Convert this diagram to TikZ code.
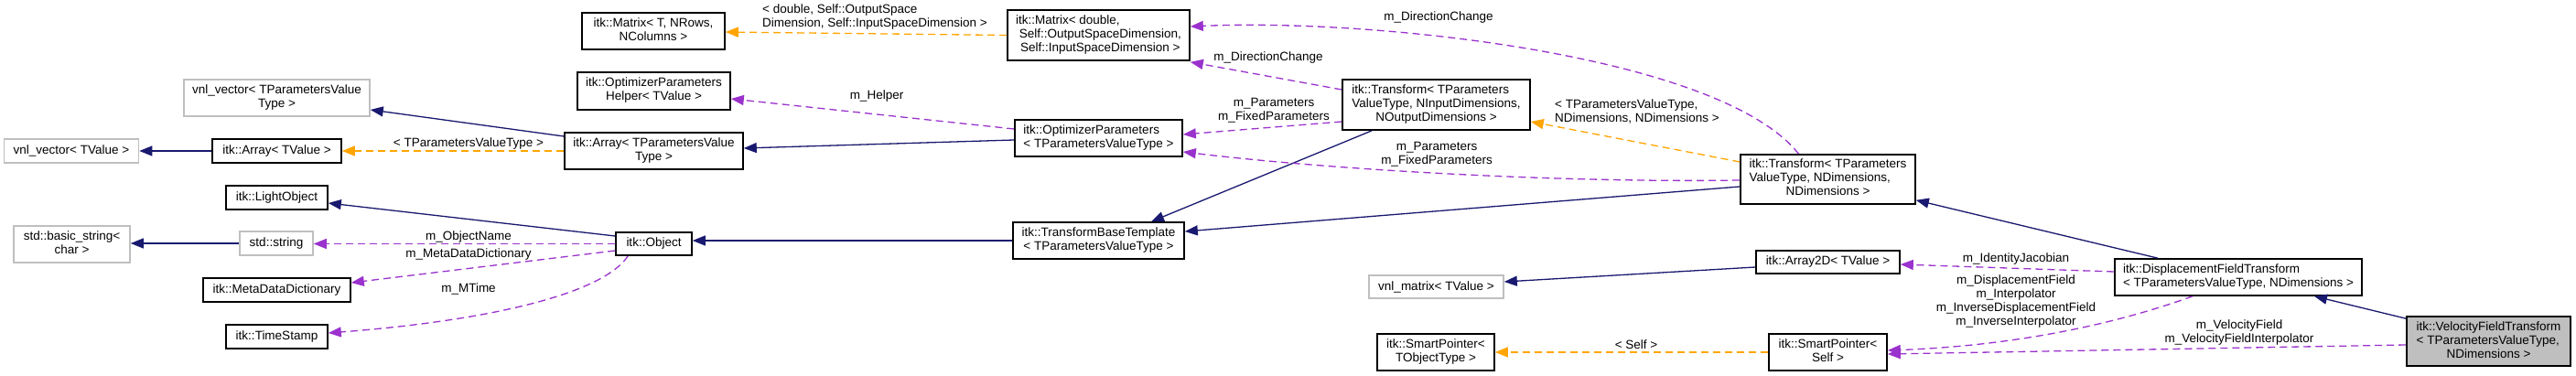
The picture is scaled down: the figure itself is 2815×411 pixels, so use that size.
\documentclass[tikz,border=0pt]{standalone}
\usepackage{fontspec}
\setmainfont{Liberation Sans}
\usetikzlibrary{arrows.meta,calc}
\definecolor{navy}{HTML}{191970}
\definecolor{edgeorange}{HTML}{FFA500}
\definecolor{edgepurple}{HTML}{9A32CD}
\definecolor{greyseventyfive}{HTML}{BFBFBF}
\newcommand{\dlab}[2]{\begin{tabular}{@{}l@{}}#1\\\multicolumn{1}{@{}c@{}}{#2}\end{tabular}}
\begin{document}
\begin{tikzpicture}[x=1pt,y=-1pt,
  every node/.style={font=\fontsize{13.5}{15}\selectfont, inner sep=0pt},
  cls/.style 2 args={draw=black, line width=1.6pt, fill=white, minimum width=#1, minimum height=#2},
  gcls/.style 2 args={cls={#1}{#2}, draw=greyseventyfive},
  lab/.style={align=center},
  inh/.style={navy, line width=1.3pt, -{Triangle[length=14pt,width=11pt]}},
  tpl/.style={edgeorange, line width=1.3pt, dash pattern=on 8pt off 5pt, -{Triangle[length=14pt,width=11pt]}},
  mem/.style={edgepurple, line width=1.3pt, dash pattern=on 8pt off 5pt, -{Triangle[length=14pt,width=11pt]}}]
\fill[white] (0,0) rectangle (2815,411);
\useasboundingbox (0,0) rectangle (2815,411);

% nodes
\node[gcls={203pt}{40pt}] (vvTP) at (302.5,107) {\dlab{vnl\_vector< TParametersValue}{Type >}};
\node[gcls={147pt}{26pt}] (vvT) at (78,165) {vnl\_vector< TValue >};
\node[cls={141pt}{26pt}] (arrT) at (302.5,165) {itk::Array< TValue >};
\node[cls={195pt}{40pt}] (arrTP) at (714.5,165) {\dlab{itk::Array< TParametersValue}{Type >}};
\node[cls={156pt}{40pt}] (matT) at (714,34) {\dlab{itk::Matrix< T, NRows,}{NColumns >}};
\node[cls={167pt}{41pt}] (optH) at (714.5,99.5) {\dlab{itk::OptimizerParameters}{Helper< TValue >}};
\node[cls={111pt}{26pt}] (light) at (302.5,216) {itk::LightObject};
\node[gcls={127pt}{40pt}] (bstr) at (78.5,267) {\dlab{std::basic\_string<}{char >}};
\node[gcls={80pt}{26pt}] (str) at (302,266) {std::string};
\node[cls={161pt}{26pt}] (mdd) at (302.5,317) {itk::MetaDataDictionary};
\node[cls={111pt}{26pt}] (ts) at (302.5,368) {itk::TimeStamp};
\node[cls={83pt}{25pt}] (obj) at (714.5,266.5) {itk::Object};
\node[cls={199pt}{55pt}] (matD) at (1200.5,38.5) {\dlab{itk::Matrix< double,\\\ Self::OutputSpaceDimension,}{\ Self::InputSpaceDimension >}};
\node[cls={183pt}{40pt}] (opt) at (1200.5,151) {\dlab{itk::OptimizerParameters}{< TParametersValueType >}};
\node[cls={187pt}{40pt}] (tbt) at (1200.5,263) {\dlab{itk::TransformBaseTemplate}{< TParametersValueType >}};
\node[cls={205pt}{55pt}] (trI) at (1569.5,114.5) {\dlab{itk::Transform< TParameters\\ValueType, NInputDimensions,}{NOutputDimensions >}};
\node[cls={191pt}{54pt}] (trN) at (1997.5,196) {\dlab{itk::Transform< TParameters\\ValueType, NDimensions,}{NDimensions >}};
\node[cls={157pt}{25pt}] (a2d) at (1997.5,286.5) {itk::Array2D< TValue >};
\node[gcls={147pt}{25pt}] (vm) at (1569.5,313.5) {vnl\_matrix< TValue >};
\node[cls={128pt}{40pt}] (spT) at (1569,385) {\dlab{itk::SmartPointer<}{TObjectType >}};
\node[cls={129pt}{40pt}] (spS) at (1997.5,385) {\dlab{itk::SmartPointer<}{Self >}};
\node[cls={270pt}{40pt}] (dft) at (2446,303) {\dlab{itk::DisplacementFieldTransform}{< TParametersValueType, NDimensions >}};
\node[cls={179pt}{54pt}, fill=greyseventyfive] (vft) at (2719.5,373) {\dlab{itk::VelocityFieldTransform\\< TParametersValueType,}{NDimensions >}};

% edges
\draw[inh] (arrT.west) -- (vvT.east);
\draw[inh] ($(arrTP.west)+(0,-16)$) -- ($(vvTP.east)+(0,13)$);
\draw[tpl] (arrTP.west) -- (arrT.east);
\draw[inh] ($(obj.west)+(0,-8.5)$) -- ($(light.east)+(0,6)$);
\draw[inh] (str.west) -- (str.west -| bstr.east);
\draw[mem] (obj.west) -- (obj.west -| str.east);
\draw[mem] ($(obj.west)+(0,7.5)$) -- ($(mdd.east)+(0,-8)$);
\draw[mem] ($(obj.south west)+(14,0)$) .. controls (660,320) and (540,350) .. ($(ts.east)+(0,-4)$);
\draw[inh] (tbt.west) -- (tbt.west -| obj.east);
\draw[inh] ($(opt.west)+(0,2)$) -- ($(arrTP.east)+(0,-3)$);
\draw[mem] ($(opt.west)+(0,-10)$) -- ($(optH.east)+(0,8.5)$);
\draw[tpl] (matD.west) -- ($(matT.east)+(0,1)$);
\draw[mem] ($(trI.west)+(0,-16.5)$) -- ($(matD.south east)+(0,1)$);
\draw[mem] ($(trI.west)+(0,18.5)$) -- ($(opt.east)+(0,-4)$);
\draw[inh] ($(trI.south west)+(33,0)$) -- ($(tbt.north)+(57.5,0)$);
\draw[tpl] ($(trN.west)+(0,-19)$) -- ($(trI.east)+(0,18.5)$);
\draw[mem] ($(trN.north)+(-32,0)$) .. controls (1880,60) and (1500,20) .. ($(matD.east)+(0,-9.5)$);
\draw[mem] ($(trN.west)+(0,1)$) .. controls (1700,200) and (1450,185) .. ($(opt.east)+(0,15)$);
\draw[inh] ($(trN.west)+(0,8)$) -- ($(tbt.east)+(0,-10)$);
\draw[inh] ($(dft.north)+(-88,0)$) -- ($(trN.south east)+(0,-5)$);
\draw[mem] ($(dft.west)+(0,-6)$) -- ($(a2d.east)+(0,2.5)$);
\draw[inh] ($(a2d.west)+(0,5.5)$) -- ($(vm.east)+(0,-5.5)$);
\draw[mem] ($(dft.south)+(-50,0)$) .. controls (2310,355) and (2200,378) .. ($(spS.east)+(0,-2)$);
\draw[mem] ($(vft.west)+(0,4)$) -- ($(spS.east)+(0,2)$);
\draw[inh] ($(vft.north west)+(0,3)$) -- ($(dft.south)+(83,0)$);
\draw[tpl] (spS.west) -- (spT.east);

% edge labels
\node[lab] (l1) at (512,157) {< TParametersValueType >};
\node[lab] (l2) at (512,259) {m\_ObjectName};
\node[lab] (l3) at (512,278) {m\_MetaDataDictionary};
\node[lab] (l4) at (512,316) {m\_MTime};
\node[lab] (l5) at (956,19.5) {\dlab{< double, Self::OutputSpace}{Dimension, Self::InputSpaceDimension >}};
\node[lab] (l6) at (958,105) {m\_Helper};
\node[lab] (l7) at (1572,19) {m\_DirectionChange};
\node[lab] (l8) at (1386,63) {m\_DirectionChange};
\node[lab] (l9) at (1392,120.5) {m\_Parameters\\m\_FixedParameters};
\node[lab] (l10) at (1789,123) {\begin{tabular}{@{}l@{}}< TParametersValueType,\\NDimensions, NDimensions >\end{tabular}};
\node[lab] (l11) at (1570,168.5) {m\_Parameters\\m\_FixedParameters};
\node[lab] (l12) at (2203,283) {m\_IdentityJacobian};
\node[lab] (l13) at (2203,329.5) {m\_DisplacementField\\m\_Interpolator\\m\_InverseDisplacementField\\m\_InverseInterpolator};
\node[lab] (l14) at (2447,363.5) {m\_VelocityField\\m\_VelocityFieldInterpolator};
\node[lab] (l15) at (1788,377) {< Self >};
\end{tikzpicture}
\end{document}
